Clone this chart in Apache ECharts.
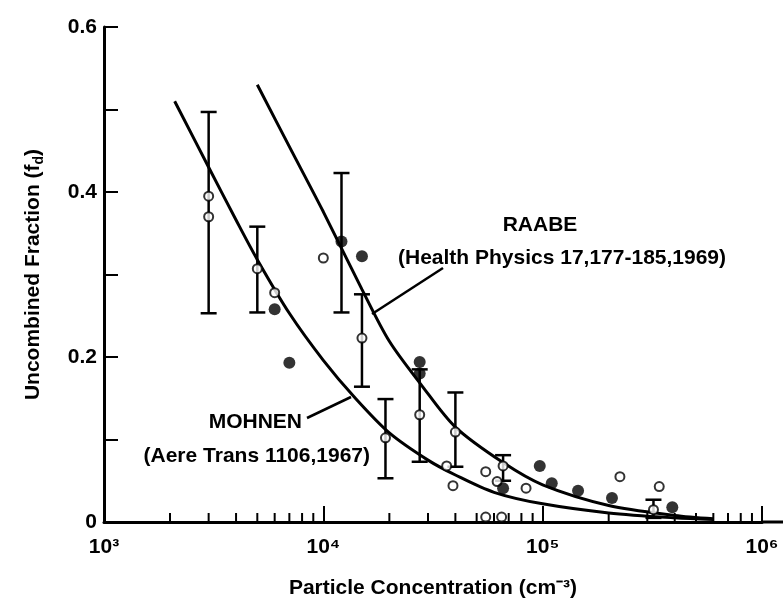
<!DOCTYPE html>
<html><head><meta charset="utf-8">
<script src="https://cdn.jsdelivr.net/npm/echarts@6/dist/echarts.min.js"></script>
<style>html,body{margin:0;padding:0;background:#fff}#c{width:784px;height:606px}</style>
</head><body><div id="c"></div>
<script>
// ---- data ----
const xMajorLabels = {3:'10³',4:'10⁴',5:'10⁵',6:'10⁶'};
const yTickLabels = {0:'0',2:'0.2',4:'0.4',6:'0.6'};
const minorTickX = [2e3,3e3,4e3,5e3,6e3,7e3,8e3,9e3,2e4,3e4,4e4,5e4,6e4,7e4,8e4,9e4,2e5,3e5,4e5,5e5,6e5,7e5,8e5,9e5];

const mohnenX = [2.1e3,3e3,4e3,5e3,7e3,1e4,1.4e4,2e4,3e4,4e4,6e4,1e5,2e5,4e5,6e5];
const mohnenY = [0.51,0.43,0.366,0.318,0.253,0.196,0.15,0.108,0.075,0.057,0.036,0.022,0.011,0.005,0.003];

const raabeX = [5e3,7e3,1e4,1.5e4,2e4,2.8e4,4e4,6.6e4,1e5,2e5,4e5,6e5];
const raabeY = [0.53,0.455,0.376,0.282,0.219,0.166,0.115,0.072,0.045,0.02,0.008,0.004];

const openX = [3e3,3e3,5e3,6e3,1e4,1.5e4,1.92e4,2.75e4,3.65e4,4e4,3.9e4,5.5e4,6.6e4,6.2e4,8.4e4,2.25e5,3.4e5,3.2e5,5.5e4,6.5e4];
const openY = [0.395,0.37,0.307,0.278,0.32,0.223,0.102,0.13,0.068,0.109,0.044,0.061,0.068,0.049,0.041,0.055,0.043,0.015,0.006,0.006];

const filledX = [6e3,7e3,1.21e4,1.5e4,2.75e4,2.75e4,6.6e4,9.7e4,1.1e5,1.45e5,2.07e5,3.9e5];
const filledY = [0.258,0.193,0.34,0.322,0.194,0.18,0.041,0.068,0.047,0.038,0.029,0.018];

const errX =    [3e3,  5e3,  1.21e4,1.5e4,1.92e4,2.75e4,4e4,  6.6e4,3.2e5];
const errLow =  [0.253,0.254,0.254, 0.164,0.053, 0.073, 0.067,0.050,0.005];
const errHigh = [0.497,0.358,0.423, 0.276,0.149, 0.185, 0.157,0.081,0.027];

const xTitle = 'Particle Concentration (cm⁻³)';
const yTitleMain = 'Uncombined Fraction (f';
const yTitleSub = 'd';
const raabeLabel = ['RAABE','(Health Physics 17,177-185,1969)'];
const mohnenLabel = ['MOHNEN','(Aere Trans 1106,1967)'];

// ---- chart ----
const FONT = '"Liberation Sans", Arial, sans-serif';
const zip = (a,b) => a.map((v,i)=>[v,b[i]]);
const chart = echarts.init(document.getElementById('c'), null, {renderer:'canvas'});

chart.setOption({
  animation:false,
  backgroundColor:'#fff',
  grid:{left:104, right:22, top:27, bottom:84},
  xAxis:{
    type:'log', logBase:10, min:1e3, max:1e6,
    axisLine:{show:true, lineStyle:{color:'#000', width:3}},
    axisTick:{show:true, inside:true, length:16, lineStyle:{color:'#000', width:2}},
    axisLabel:{color:'#000', fontFamily:FONT, fontWeight:'bold', fontSize:21, margin:15,
      formatter:v=>xMajorLabels[Math.round(Math.log10(v))]||''},
    splitLine:{show:false},
    name:xTitle, nameLocation:'middle', nameGap:56,
    nameTextStyle:{color:'#000', fontFamily:FONT, fontWeight:'bold', fontSize:21}
  },
  yAxis:{
    type:'value', min:0, max:0.6, interval:0.1,
    axisLine:{show:true, lineStyle:{color:'#000', width:3}},
    axisTick:{show:true, inside:true, length:14, lineStyle:{color:'#000', width:2}},
    axisLabel:{color:'#000', fontFamily:FONT, fontWeight:'bold', fontSize:21, margin:7,
      formatter:v=>{const k=Math.round(v*10); return yTickLabels[k]!==undefined?yTickLabels[k]:'';}},
    splitLine:{show:false},
    name:'{a|'+yTitleMain+'}{s|'+yTitleSub+'}{a|)}', nameLocation:'middle', nameGap:58,
    nameTextStyle:{color:'#000', fontFamily:FONT, fontWeight:'bold', fontSize:21,
      rich:{a:{fontFamily:FONT, fontWeight:'bold', fontSize:21, color:'#000', lineHeight:25},
            s:{fontFamily:FONT, fontWeight:'bold', fontSize:14, color:'#000', lineHeight:25, verticalAlign:'bottom', padding:[9,0,0,0]}}}
  },
  series:[
    {type:'custom', name:'minorTicks', silent:true, z:1,
     data:minorTickX.map(x=>[x,0]),
     renderItem:(params,api)=>{
       const p=api.coord([api.value(0),0]);
       return {type:'line', shape:{x1:p[0],y1:p[1],x2:p[0],y2:p[1]-9}, style:{stroke:'#000',lineWidth:2}};
     }},
    {type:'line', name:'MOHNEN', data:zip(mohnenX,mohnenY), smooth:0.3, showSymbol:false,
     lineStyle:{color:'#000', width:3}, z:3},
    {type:'line', name:'RAABE', data:zip(raabeX,raabeY), smooth:0.3, showSymbol:false,
     lineStyle:{color:'#000', width:3}, z:3},
    {type:'custom', name:'errors', z:4,
     data:errX.map((x,i)=>[x,errLow[i],errHigh[i]]),
     renderItem:(params,api)=>{
       const lo=api.coord([api.value(0),api.value(1)]);
       const hi=api.coord([api.value(0),api.value(2)]);
       const w=8, st={stroke:'#000',lineWidth:2.5};
       return {type:'group', children:[
         {type:'line', shape:{x1:lo[0],y1:lo[1],x2:hi[0],y2:hi[1]}, style:st},
         {type:'line', shape:{x1:lo[0]-w,y1:lo[1],x2:lo[0]+w,y2:lo[1]}, style:st},
         {type:'line', shape:{x1:hi[0]-w,y1:hi[1],x2:hi[0]+w,y2:hi[1]}, style:st}
       ]};
     }},
    {type:'scatter', name:'open', data:zip(openX,openY), symbol:'circle', symbolSize:9,
     itemStyle:{color:'#fff', borderColor:'#000', borderWidth:2}, z:5},
    {type:'scatter', name:'filled', data:zip(filledX,filledY), symbol:'circle', symbolSize:12,
     itemStyle:{color:'#000'}, z:6}
  ],
  graphic:[
    {type:'line', shape:{x1:762,y1:522,x2:783,y2:522}, style:{stroke:'#000',lineWidth:3}, z:10},
    {type:'line', shape:{x1:372,y1:314,x2:443,y2:268}, style:{stroke:'#000',lineWidth:2.5}, z:10},
    {type:'line', shape:{x1:307,y1:418,x2:351,y2:397}, style:{stroke:'#000',lineWidth:2.5}, z:10},
    {type:'text', x:540, y:225, style:{text:raabeLabel[0], fill:'#000', font:'bold 21px '+FONT, textAlign:'center', textVerticalAlign:'middle'}, z:10},
    {type:'text', x:398, y:258, style:{text:raabeLabel[1], fill:'#000', font:'bold 21px '+FONT, textAlign:'left', textVerticalAlign:'middle'}, z:10},
    {type:'text', x:302, y:422, style:{text:mohnenLabel[0], fill:'#000', font:'bold 21px '+FONT, textAlign:'right', textVerticalAlign:'middle'}, z:10},
    {type:'text', x:370, y:456, style:{text:mohnenLabel[1], fill:'#000', font:'bold 21px '+FONT, textAlign:'right', textVerticalAlign:'middle'}, z:10}
  ]
});
</script>
</body></html>
